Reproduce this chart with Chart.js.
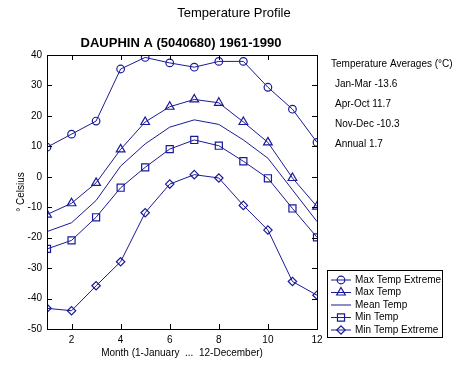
<!DOCTYPE html>
<html>
<head>
<meta charset="utf-8">
<script src="https://cdn.jsdelivr.net/npm/chart.js@4/dist/chart.umd.min.js"></script>
<style>
html,body{margin:0;padding:0;background:#fff;}
#wrap{position:relative;width:469px;height:365px;}
</style>
</head>
<body>
<div id="wrap"><canvas id="c" width="469" height="365"></canvas></div>
<script>
const months = [1,2,3,4,5,6,7,8,9,10,11,12];
const maxTempExtreme = [9.7,14.0,18.3,35.4,39.2,37.4,36.0,37.9,37.9,29.4,22.2,11.3];
const maxTemp = [-12.4,-8.7,-2.0,9.0,18.0,23.0,25.4,24.3,18.0,11.3,-0.4,-9.8];
const meanTemp = [-18.0,-15.1,-7.8,3.5,10.8,16.3,18.7,17.2,12.1,6.1,-4.3,-14.7];
const minTemp = [-23.7,-20.9,-13.3,-3.6,3.1,9.1,12.1,10.2,5.1,-0.5,-10.4,-19.9];
const minTempExtreme = [-43.2,-44.0,-35.8,-27.9,-11.8,-2.4,0.7,-0.4,-9.4,-17.5,-34.4,-38.9];
const seriesNames = ['Max Temp Extreme','Max Temp','Mean Temp','Min Temp','Min Temp Extreme'];
const xTickLabels = [2,4,6,8,10,12];
const yTickLabels = [-50,-40,-30,-20,-10,0,10,20,30,40];
const averages = ['Jan-Mar -13.6','Apr-Oct 11.7','Nov-Dec -10.3','Annual 1.7'];

const COLOR = '#1a1a98';
const FONT = '"Liberation Sans", Arial, sans-serif';
const styles = [
  {pointStyle:'circle', radius:3.8},
  {pointStyle:'triangle', radius:5},
  {pointStyle:false, radius:0},
  {pointStyle:'rect', radius:5},
  {pointStyle:'rectRot', radius:4.2}
];
const allData = [maxTempExtreme, maxTemp, meanTemp, minTemp, minTempExtreme];

const datasets = allData.map((arr, i) => ({
  label: seriesNames[i],
  data: months.map((m, j) => ({x: m, y: arr[j]})),
  borderColor: COLOR,
  backgroundColor: 'rgba(0,0,0,0)',
  borderWidth: 1,
  pointStyle: styles[i].pointStyle,
  pointRadius: styles[i].radius,
  pointBorderWidth: 1.2,
  pointBorderColor: COLOR,
  pointBackgroundColor: 'rgba(0,0,0,0)',
  tension: 0
}));

const decor = {
  id: 'decor',
  afterDraw(chart) {
    const ctx = chart.ctx;
    const a = chart.chartArea;
    const xs = chart.scales.x, ys = chart.scales.y;
    ctx.save();
    // frame
    ctx.strokeStyle = '#000';
    ctx.lineWidth = 1;
    ctx.strokeRect(Math.round(a.left)+0.5, Math.round(a.top)+0.5, Math.round(a.right-a.left), Math.round(a.bottom-a.top));
    // inward ticks
    ctx.beginPath();
    xTickLabels.forEach(v => {
      const px = Math.round(xs.getPixelForValue(v)) + 0.5;
      ctx.moveTo(px, a.bottom); ctx.lineTo(px, a.bottom - 5);
      ctx.moveTo(px, a.top); ctx.lineTo(px, a.top + 5);
    });
    yTickLabels.forEach(v => {
      const py = Math.round(ys.getPixelForValue(v)) + 0.5;
      ctx.moveTo(a.left, py); ctx.lineTo(a.left + 5, py);
      ctx.moveTo(a.right, py); ctx.lineTo(a.right - 5, py);
    });
    ctx.stroke();

    // titles
    ctx.fillStyle = '#000';
    ctx.textBaseline = 'middle';
    ctx.textAlign = 'center';
    ctx.font = '13px ' + FONT;
    ctx.fillText('Temperature Profile', 234, 13);
    ctx.font = 'bold 13px ' + FONT;
    ctx.fillText('DAUPHIN A (5040680) 1961-1990', 181, 43);
    ctx.font = '10px ' + FONT;
    ctx.fillText('Month (1-January  ...  12-December)', 182, 353);
    ctx.save();
    ctx.translate(21, 192);
    ctx.rotate(-Math.PI/2);
    ctx.fillText('\u00b0 Celsius', 0, 0);
    ctx.restore();

    // averages text
    ctx.textAlign = 'left';
    ctx.font = '10px ' + FONT;
    ctx.fillText('Temperature Averages (\u00b0C)', 331, 64);
    averages.forEach((t, i) => ctx.fillText(t, 335, 84 + i*20));

    // legend box
    const lx = 327, ly = 270, lw = 115, lh = 67;
    ctx.strokeStyle = '#000';
    ctx.strokeRect(lx + 0.5, ly + 0.5, lw, lh);
    seriesNames.forEach((name, i) => {
      const y = ly + 10 + i * 12.5;
      ctx.strokeStyle = COLOR;
      ctx.lineWidth = 1;
      ctx.beginPath();
      ctx.moveTo(lx + 4, y); ctx.lineTo(lx + 24, y);
      ctx.stroke();
      if (styles[i].pointStyle) {
        ctx.lineWidth = 1.2;
        ctx.fillStyle = 'rgba(0,0,0,0)';
        Chart.helpers.drawPoint(ctx, {pointStyle: styles[i].pointStyle, radius: styles[i].radius, rotation: 0, borderWidth: 1.2}, lx + 14, y);
      }
      ctx.fillStyle = '#000';
      ctx.fillText(name, lx + 28, y);
    });
    ctx.restore();
  }
};

new Chart(document.getElementById('c'), {
  type: 'line',
  data: { datasets },
  options: {
    responsive: false,
    animation: false,
    devicePixelRatio: 1,
    layout: { padding: { left: 0, top: 55, right: 152, bottom: 0 } },
    plugins: { legend: { display: false }, title: { display: false }, tooltip: { enabled: false } },
    scales: {
      x: {
        type: 'linear', min: 1, max: 12,
        afterBuildTicks: s => { s.ticks = xTickLabels.map(v => ({value: v})); },
        afterFit: s => { s.height = 36; },
        grid: { display: false, drawTicks: false },
        border: { display: false },
        ticks: { color: '#000', font: { family: FONT, size: 10 }, padding: 5, maxRotation: 0, autoSkip: false }
      },
      y: {
        type: 'linear', min: -50, max: 40,
        afterBuildTicks: s => { s.ticks = yTickLabels.map(v => ({value: v})); },
        afterFit: s => { s.width = 47; },
        grid: { display: false, drawTicks: false },
        border: { display: false },
        ticks: { color: '#000', font: { family: FONT, size: 10 }, padding: 5 }
      }
    }
  },
  plugins: [decor]
});
</script>
</body>
</html>
